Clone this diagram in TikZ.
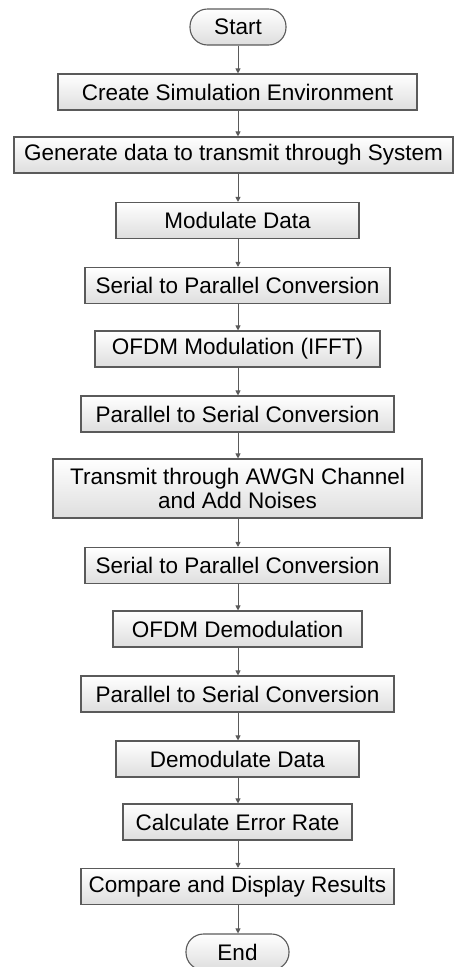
\documentclass[tikz,border=0pt]{standalone}
\usepackage{fontspec}
\setmainfont{Liberation Sans}
\usetikzlibrary{arrows.meta}
\definecolor{edgegray}{HTML}{5A5A5A}
\begin{document}
\begin{tikzpicture}[x=1pt,y=-1pt,
  stepbox/.style={draw=edgegray, line width=1.1pt, top color=white, bottom color=black!13,
    minimum height=36pt, inner sep=0pt, align=center,
    font=\fontsize{22.5}{24}\selectfont},
  term/.style={stepbox, rounded corners=17.5pt},
  flow/.style={draw=edgegray, line width=0.9pt, -{Triangle[width=5pt,length=5pt]}}]
\useasboundingbox (0,0) rectangle (454,967);

% process steps, top to bottom
\node[term,    minimum width=96pt]  (start)  at (238,27)    {Start};
\node[stepbox, minimum width=359pt] (create) at (237.5,92)  {Create Simulation Environment};
\node[stepbox, minimum width=439pt] (gen)    at (233.5,155) {Generate data to transmit through System};
\node[stepbox, minimum width=243pt] (mod)    at (237.5,220.5) {Modulate Data};
\node[stepbox, minimum width=305pt] (sp1)    at (237.5,285.5) {Serial to Parallel Conversion};
\node[stepbox, minimum width=285pt] (ifft)   at (237.5,349) {OFDM Modulation (IFFT)};
\node[stepbox, minimum width=313pt] (ps1)    at (237.5,414) {Parallel to Serial Conversion};
\node[stepbox, minimum width=369pt, minimum height=59pt] (chan) at (237.5,488.5)
  {Transmit through AWGN Channel\\and Add Noises};
\node[stepbox, minimum width=305pt] (sp2)    at (237.5,565.5) {Serial to Parallel Conversion};
\node[stepbox, minimum width=249pt] (fft)    at (237.5,629) {OFDM Demodulation};
\node[stepbox, minimum width=313pt] (ps2)    at (237.5,694) {Parallel to Serial Conversion};
\node[stepbox, minimum width=243pt] (demod)  at (237.5,759) {Demodulate Data};
\node[stepbox, minimum width=229pt] (ber)    at (237.5,822) {Calculate Error Rate};
\node[stepbox, minimum width=313pt] (show)   at (237.5,886.5) {Compare and Display Results};
\node[term,    minimum width=103pt] (stop)   at (237.5,952) {End};

% connectors
\foreach \a/\b in {start/create, create/gen, gen/mod, mod/sp1, sp1/ifft, ifft/ps1,
                   ps1/chan, chan/sp2, sp2/fft, fft/ps2, ps2/demod, demod/ber,
                   ber/show, show/stop}
  \draw[flow] (\a.south -| start.south) -- (\b.north -| start.south);
\end{tikzpicture}
\end{document}
